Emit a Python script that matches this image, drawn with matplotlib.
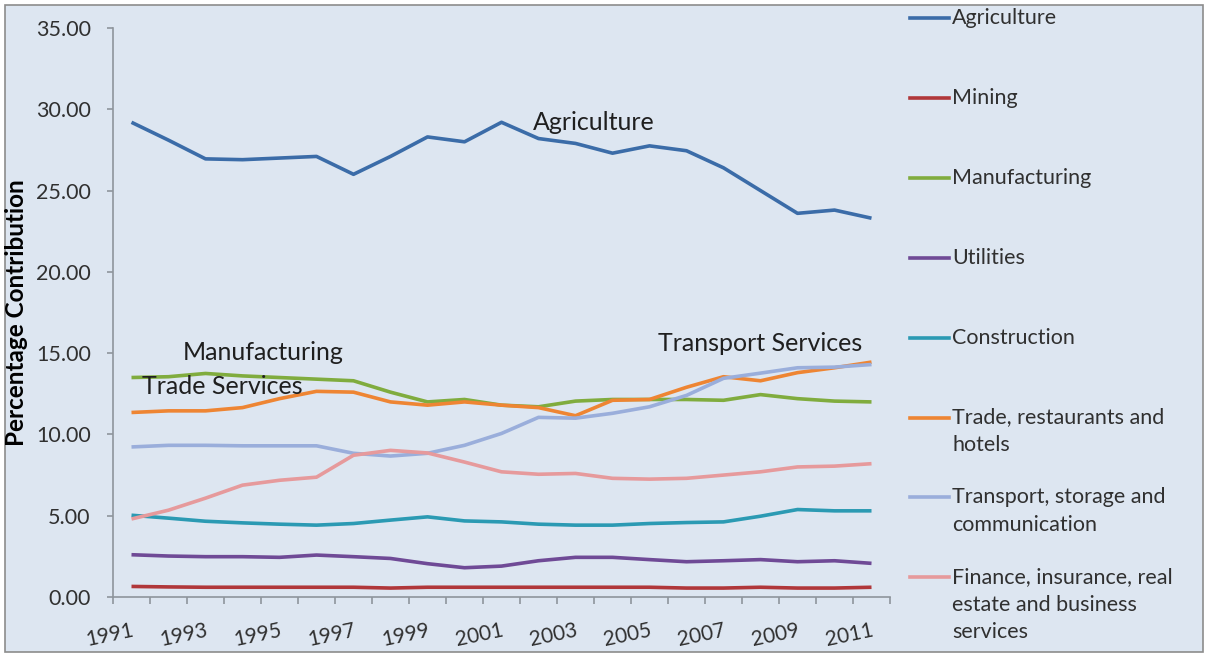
import matplotlib.pyplot as plt
from matplotlib.lines import Line2D
from matplotlib.patches import Rectangle
from matplotlib.ticker import FixedLocator, NullFormatter, FormatStrFormatter

plt.rcParams['font.family'] = ['Lato', 'DejaVu Sans']

years = list(range(1991, 2012))

agriculture = [29.2, 28.1, 26.95, 26.9, 27.0, 27.1, 26.0, 27.1, 28.3, 28.0, 29.2,
               28.2, 27.9, 27.3, 27.75, 27.45, 26.4, 25.0, 23.6, 23.8, 23.3]
mining = [0.65, 0.62, 0.6, 0.6, 0.6, 0.6, 0.6, 0.55, 0.6, 0.6, 0.6,
          0.6, 0.6, 0.6, 0.6, 0.55, 0.55, 0.6, 0.55, 0.55, 0.6]
manufacturing = [13.5, 13.55, 13.75, 13.6, 13.5, 13.4, 13.3, 12.6, 12.0, 12.15, 11.8,
                 11.7, 12.05, 12.15, 12.15, 12.15, 12.1, 12.45, 12.2, 12.05, 12.0]
utilities = [2.6, 2.52, 2.48, 2.48, 2.44, 2.58, 2.48, 2.37, 2.05, 1.8, 1.9,
             2.23, 2.44, 2.44, 2.3, 2.17, 2.23, 2.3, 2.17, 2.23, 2.07]
construction = [5.03, 4.85, 4.66, 4.56, 4.48, 4.42, 4.52, 4.73, 4.93, 4.68, 4.62,
                4.48, 4.42, 4.42, 4.52, 4.58, 4.62, 4.97, 5.38, 5.3, 5.3]
trade = [11.35, 11.45, 11.45, 11.65, 12.2, 12.65, 12.6, 12.0, 11.8, 12.0, 11.8,
         11.65, 11.15, 12.1, 12.15, 12.9, 13.55, 13.3, 13.8, 14.1, 14.45]
transport = [9.23, 9.33, 9.33, 9.3, 9.3, 9.3, 8.84, 8.67, 8.84, 9.33, 10.06,
             11.05, 11.0, 11.3, 11.7, 12.4, 13.45, 13.77, 14.1, 14.14, 14.3]
finance = [4.8, 5.34, 6.08, 6.88, 7.18, 7.37, 8.72, 9.02, 8.86, 8.3, 7.7,
           7.55, 7.6, 7.3, 7.25, 7.3, 7.5, 7.7, 8.0, 8.05, 8.2]

series_names = ['Agriculture', 'Mining', 'Manufacturing', 'Utilities', 'Construction',
                'Trade, restaurants and\nhotels',
                'Transport, storage and\ncommunication',
                'Finance, insurance, real\nestate and business\nservices']
series_values = [agriculture, mining, manufacturing, utilities, construction,
                 trade, transport, finance]
colors = ['#3b6ca8', '#b0373a', '#80ac3e', '#6f4a96', '#2b9ab3',
          '#ee8533', '#9aaedb', '#e69a9c']

W, H = 1206, 655
bg = '#dde6f1'
txt = '#303030'
fig = plt.figure(figsize=(W / 100, H / 100), dpi=100, facecolor='white')

# chart frame
fig.patches.append(Rectangle((5 / W, 1 - 652 / H), 1198 / W, 647 / H,
                             transform=fig.transFigure, facecolor=bg,
                             edgecolor='#8c8c8c', linewidth=1.2, zorder=-10))

ax = fig.add_axes([113 / W, 1 - 597 / H, 777 / W, 569 / H])
ax.set_facecolor('none')
ax.set_zorder(1)

x = list(range(len(years)))
for vals, c in zip(series_values, colors):
    ax.plot(x, vals, color=c, linewidth=2.6, solid_joinstyle='round',
            solid_capstyle='butt')

ax.set_xlim(-0.5, len(years) - 0.5)
ax.set_ylim(0, 35)
ax.set_yticks([0, 5, 10, 15, 20, 25, 30, 35])
ax.yaxis.set_major_formatter(FormatStrFormatter('%.2f'))

# category boundaries carry the ticks, labels sit on every other category
ax.xaxis.set_major_locator(FixedLocator([i - 0.5 for i in range(len(years) + 1)]))
ax.xaxis.set_major_formatter(NullFormatter())
ax.xaxis.set_minor_locator(FixedLocator(x[::2]))
ax.set_xticklabels([str(y) for y in years[::2]], minor=True)

for s in ['top', 'right']:
    ax.spines[s].set_visible(False)
for s in ['left', 'bottom']:
    ax.spines[s].set_color('#8e959c')
    ax.spines[s].set_linewidth(1.2)

ax.tick_params(axis='x', which='major', color='#8e959c', length=5, width=1.2)
ax.tick_params(axis='y', which='major', color='#8e959c', length=4, width=1.2,
               pad=12, labelsize=15.5, labelcolor=txt)
ax.tick_params(axis='x', which='minor', length=0, pad=17, labelsize=15,
               labelcolor=txt)
for lbl in ax.get_xticklabels(minor=True):
    lbl.set_rotation(12)
    lbl.set_ha('right')
    lbl.set_rotation_mode('anchor')

ax.set_ylabel('Percentage Contribution', fontsize=17.5, fontweight='bold')
ax.yaxis.set_label_coords(-0.109, 0.5)

# series annotations inside the plot
ann = dict(fontsize=18, ha='center', va='center', color='#1f1f1f')
ax.text(12.5, 29.2, 'Agriculture', **ann)
ax.text(3.55, 15.05, 'Manufacturing', **ann)
ax.text(2.45, 12.95, 'Trade Services', **ann)
ax.text(17.0, 15.6, 'Transport Services', **ann)

# legend on the right, one slot per series
slot_y = 18
for name, c in zip(series_names, colors):
    fig.add_artist(Line2D([910 / W, 949 / W], [1 - slot_y / H, 1 - slot_y / H],
                          color=c, linewidth=2.6, transform=fig.transFigure))
    for j, part in enumerate(name.split('\n')):
        fig.text(952 / W, 1 - (slot_y + 27.5 * j) / H, part, fontsize=15.5,
                 ha='left', va='center', color=txt)
    slot_y += 79.9

fig.savefig('out.png', dpi=100, facecolor='white')
